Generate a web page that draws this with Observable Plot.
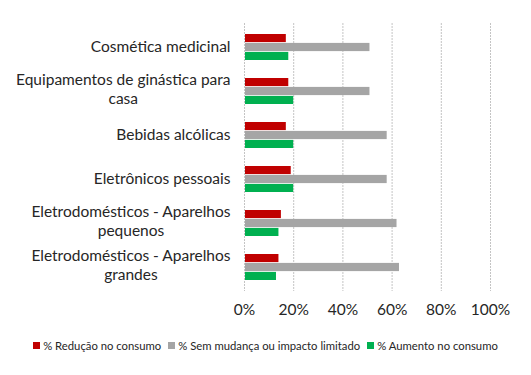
<!DOCTYPE html>
<html>
<head>
<meta charset="utf-8">
<script src="https://cdn.jsdelivr.net/npm/d3@7"></script>
<script src="https://cdn.jsdelivr.net/npm/@observablehq/plot@0.6"></script>
<style>
  body { margin: 0; background: #fff; font-family: Lato, "Open Sans", sans-serif; }
  #legend { display: flex; justify-content: center; gap: 7px; font-size: 11.3px; color: #262626; margin-top: 13px; padding-left: 0px; }
  #legend span.item { display: inline-flex; align-items: center; }
  #legend i { display: inline-block; width: 7px; height: 7px; margin-right: 3px; }
</style>
</head>
<body>
<div id="chart"></div>
<div id="legend"></div>
<script>
const categories = ["Cosmética medicinal", "Equipamentos de ginástica para casa", "Bebidas alcólicas", "Eletrônicos pessoais", "Eletrodomésticos - Aparelhos pequenos", "Eletrodomésticos - Aparelhos grandes"];
const categoryLabels = ["Cosmética medicinal", "Equipamentos de ginástica para\ncasa", "Bebidas alcólicas", "Eletrônicos pessoais", "Eletrodomésticos - Aparelhos\npequenos", "Eletrodomésticos - Aparelhos\ngrandes"];
const seriesNames = ["% Redução no consumo", "% Sem mudança ou impacto limitado", "% Aumento no consumo"];
const seriesColors = ["#c00000", "#a5a5a5", "#00b050"];
const reducao = [17, 18, 17, 19, 15, 14];
const semMudanca = [51, 51, 58, 58, 62, 63];
const aumento = [18, 20, 20, 20, 14, 13];
const xTicks = [0, 0.2, 0.4, 0.6, 0.8, 1.0];

const rows = (vals) => categories.map((c, i) => ({category: c, value: vals[i] / 100}));
const labelOf = new Map(categories.map((c, i) => [c, categoryLabels[i]]));

const chart = Plot.plot({
  width: 531,
  height: 326,
  marginLeft: 244,
  marginRight: 41,
  marginTop: 23,
  marginBottom: 35,
  style: {fontFamily: "Lato, 'Open Sans', sans-serif", fontSize: "15.5px", color: "#262626", background: "#fff"},
  x: {domain: [0, 1], ticks: xTicks, tickFormat: d3.format(".0%"), tickSize: 0, tickPadding: 12, label: null, axis: "bottom"},
  y: {domain: categories, paddingInner: 0.4, paddingOuter: 0.2, tickSize: 0, tickPadding: 14, tickFormat: d => labelOf.get(d), label: null},
  marks: [
    Plot.ruleX(xTicks, {stroke: "#c4c4c4", strokeWidth: 1, strokeDasharray: "2,1"}),
    Plot.barX(rows(reducao), {y: "category", x: "value", fill: seriesColors[0], insetBottom: 17.9, insetLeft: 1}),
    Plot.barX(rows(semMudanca), {y: "category", x: "value", fill: seriesColors[1], insetTop: 8.9, insetBottom: 8.9, insetLeft: 1}),
    Plot.barX(rows(aumento), {y: "category", x: "value", fill: seriesColors[2], insetTop: 17.9, insetLeft: 1})
  ]
});
document.getElementById("chart").append(chart);

// center wrapped second lines under the first line and open the line spacing (as in the source)
chart.querySelectorAll("g[aria-label='y-axis tick label'] text").forEach(t => {
  const spans = t.querySelectorAll("tspan");
  if (spans.length > 1) {
    const w = spans[0].getComputedTextLength();
    t.setAttribute("text-anchor", "middle");
    spans.forEach((s, i) => {
      s.setAttribute("x", -w / 2);
      s.setAttribute("dy", i === 0 ? "-0.24em" : "1.24em");
    });
  }
});

const legend = d3.select("#legend");
seriesNames.forEach((name, i) => {
  const item = legend.append("span").attr("class", "item");
  item.append("i").style("background", seriesColors[i]);
  item.append("span").text(name);
});
</script>
</body>
</html>
